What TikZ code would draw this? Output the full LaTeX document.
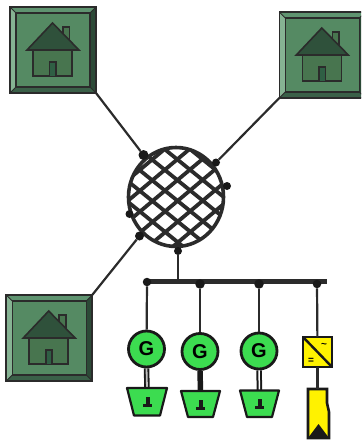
\documentclass[tikz,border=0pt]{standalone}
\usepackage{fontspec}
\setmainfont{Liberation Sans}
\definecolor{face}{HTML}{558A63}
\definecolor{bevL}{HTML}{86B393}
\definecolor{bevT}{HTML}{5F9470}
\definecolor{bevR}{HTML}{2C4A37}
\definecolor{bevB}{HTML}{3A6048}
\definecolor{roofc}{HTML}{2F513B}
\definecolor{bodyc}{HTML}{48754F}
\definecolor{doorc}{HTML}{2F5F44}
\definecolor{ink}{HTML}{2B2B2B}
\definecolor{gengreen}{HTML}{3CDC50}
\definecolor{invy}{HTML}{FFF200}
\tikzset{
  link/.style={draw=ink,line width=2.2pt},
  joint/.style={circle,fill=black!90,draw=none,inner sep=0pt,minimum size=#1},
  housepart/.style={draw=ink,line width=1.6pt,line join=miter},
  gen/.style={circle,draw=black!90,line width=2.8pt,fill=gengreen,minimum size=36pt,inner sep=0pt,font=\bfseries\fontsize{20}{20}\selectfont},
  potshape/.style={draw=black!90,line width=2.2pt,fill=gengreen,line join=round},
  mesh/.style={draw=ink,line width=3.8pt}
}
\newcommand{\housetile}[3]{%
  \begin{scope}[shift={(#2,#3)}]
    \fill[bevT] (10,7) -- (96,7) -- (90,13) -- (16,13) -- cycle;
    \fill[bevL] (10,7) -- (16,13) -- (16,87) -- (10,93) -- cycle;
    \fill[bevR] (96,7) -- (96,93) -- (90,87) -- (90,13) -- cycle;
    \fill[bevB] (10,93) -- (16,87) -- (90,87) -- (96,93) -- cycle;
    \draw[ink,line width=1.6pt] (10,7) rectangle (96,93);
    \draw[ink,line width=.9pt] (10,7) -- (16,13) (96,7) -- (90,13) (10,93) -- (16,87) (96,93) -- (90,87);
    \draw[ink,line width=1.2pt,fill=face] (16,13) rectangle (90,87);
    \draw[housepart,fill=bodyc] (33,50) rectangle (72,76);
    \draw[housepart,fill=bodyc] (63,27) rectangle (69.5,42);
    \draw[housepart,fill=roofc] (27,50) -- (52.5,23) -- (79,50) -- cycle;
    \draw[housepart,fill=doorc] (49.5,76) -- (49.5,62) -- (56,62) -- (56,76);
    \coordinate (#1tl) at (10,7);
    \coordinate (#1tr) at (96,7);
    \coordinate (#1bl) at (10,93);
    \coordinate (#1br) at (96,93);
  \end{scope}}
\newcommand{\groundmark}[2]{%
  \fill[black!90] (#1-2,#2-5) rectangle (#1+2,#2+1.5);
  \fill[black!90] (#1-4.5,#2+1.5) rectangle (#1+4.5,#2+5);}
\begin{document}
\begin{tikzpicture}[x=1pt,y=-1pt]
\useasboundingbox (0,0) rectangle (361,441);
\clip (0,0) rectangle (361,441);
\housetile{a}{0}{0}
\housetile{b}{269.3}{5}
\housetile{c}{-3.8}{288}
% mesh
\coordinate (mc) at (176,197);
\begin{scope}
  \clip (mc) ellipse (48 and 50);
  \foreach \d in {-80,-64,-48,-32,-16,0,16,32,48,64,80}{
    \begin{scope}[shift={(mc)},rotate=40]
      \draw[mesh] (-70,\d+4) -- (70,\d+4);
    \end{scope}
    \begin{scope}[shift={(mc)},rotate=-39]
      \draw[mesh] (-70,\d+2) -- (70,\d+2);
    \end{scope}
  }
\end{scope}
\draw[ink,line width=3.6pt] (mc) ellipse (47.5 and 49.5);
% joints on mesh
\node[joint=10pt] (j1) at (143.5,155) {};
\node[joint=8pt] (j2) at (216,162.5) {};
\node[joint=8pt] (j3) at (227,186) {};
\node[joint=8pt] (j4) at (129.5,214) {};
\node[joint=9pt] (j5) at (139.5,236) {};
\node[joint=8pt] (j6) at (178,251) {};
\draw[link] (abr) -- (j1);
\draw[link] (bbl) -- (j2);
\draw[link] (ctr) -- (j5);
% bus
\coordinate (busl) at (146,281.5);
\coordinate (busr) at (327,281.5);
\coordinate (busm) at (178,281.5);
\draw[ink,line width=4.5pt] (busl) -- (busr);
\draw[link] (j6) -- (busm);
\node[joint=8.5pt] (d1) at (147,282) {};
\node[joint=9.5pt] (d2) at (200,284) {};
\node[joint=9.5pt] (d3) at (259,284) {};
\node[joint=8.5pt] (d4) at (317,284) {};
% generators
\node[gen] (g1) at (146.5,349) {G};
\node[gen] (g2) at (200,351.5) {G};
\node[gen] (g3) at (259,351) {G};
\draw[link] (d1) -- (g1);
\draw[link] (d2) -- (g2);
\draw[link] (d3) -- (g3);
% pots
\coordinate (p1) at (147,388);
\coordinate (p2) at (200.5,391);
\coordinate (p3) at (259.5,390.5);
\draw[black!90,line width=5.5pt] (g1.south) -- (p1);
\draw[black!25,line width=1.8pt] (g1.south) -- (p1);
\draw[black!90,line width=5.5pt] (g2.south) -- (p2);
\draw[black!90,line width=5.5pt] (g3.south) -- (p3);
\draw[white,line width=1.5pt] (g3.south) -- (p3);
\draw[potshape] (127,388) -- (167,388) -- (160,415.5) -- (134,415.5) -- cycle;
\draw[potshape] (181,391) -- (220,391) -- (213,417) -- (188,417) -- cycle;
\draw[potshape] (240,390.5) -- (279,390.5) -- (272,417) -- (247,417) -- cycle;
\groundmark{147.5}{402}
\groundmark{200.5}{405}
\groundmark{259.5}{404}
% inverter
\node[draw=black!90,line width=2.8pt,fill=invy,minimum width=29pt,minimum height=30pt,inner sep=0pt,outer sep=0pt] (inv) at (317.5,352) {};
\draw[black!90,line width=2.4pt] (inv.north west) -- (inv.south east);
\node[inner sep=0pt,font=\fontsize{10}{10}\selectfont\bfseries] (ac) at (324,345.5) {\textasciitilde};
\node[inner sep=0pt,font=\fontsize{10}{10}\selectfont\bfseries] (dc) at (311,361) {=};
\draw[link] (d4) -- (inv);
% battery
\draw[black!90,line width=2.6pt,fill=invy] (308,389) -- (327,389) -- (327,403) -- (329,412) -- (329,438) -- (308,438) -- cycle;
\fill[black!90] (308,438) -- (318.5,424) -- (329,438) -- cycle;
\coordinate (battop) at (317.5,389);
\draw[link] (inv) -- (battop);
\end{tikzpicture}
\end{document}
